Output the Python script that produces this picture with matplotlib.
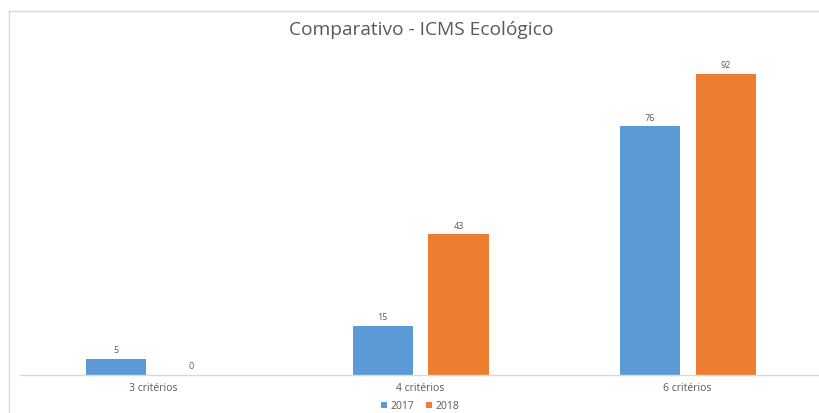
import matplotlib
matplotlib.use("Agg")
import matplotlib.pyplot as plt
from matplotlib.lines import Line2D
import numpy as np

categories = ["3 critérios", "4 critérios", "6 critérios"]
series_names = ["2017", "2018"]
values_2017 = [5, 15, 76]
values_2018 = [0, 43, 92]
colors = ["#5B9BD5", "#ED7D31"]

plt.rcParams['font.family'] = ['Open Sans', 'DejaVu Sans']

W, H = 819, 414
fig = plt.figure(figsize=(W/100, H/100), dpi=100)
fig.patch.set_facecolor("white")

# outer chart frame (top and left edges visible)
fig.add_artist(Line2D([9/W, 1.0], [1 - 12/H, 1 - 12/H], transform=fig.transFigure,
                      color="#D9D9D9", linewidth=1.0))
fig.add_artist(Line2D([9/W, 9/W], [0.0, 1 - 12/H], transform=fig.transFigure,
                      color="#D9D9D9", linewidth=1.0))

ax = fig.add_axes([20/W, (H-376)/H, 801/W, (376-49)/H])
x = np.arange(len(categories))
bw = 60/267
off = 38/267
b1 = ax.bar(x - off, values_2017, bw, color=colors[0], label=series_names[0])
b2 = ax.bar(x + off, values_2018, bw, color=colors[1], label=series_names[1])
for bars in (b1, b2):
    for r in bars:
        v = r.get_height()
        ax.annotate(f"{int(v)}", (r.get_x() + r.get_width()/2, v), xytext=(0, 3.5),
                    textcoords="offset points", ha="center", va="bottom",
                    fontsize=6.5, color="#595959")

ax.set_xlim(-0.5, 2.5)
ax.set_ylim(0, 100)
ax.set_xticks(x)
ax.set_xticklabels(categories, fontsize=7.5, color="#595959")
ax.tick_params(axis="x", length=0, pad=5)
ax.set_yticks([])
for s in ["top", "right", "left"]:
    ax.spines[s].set_visible(False)
ax.spines["bottom"].set_color("#D9D9D9")
ax.spines["bottom"].set_linewidth(1.0)

fig.text(421/W, 1 - 30/H, "Comparativo - ICMS Ecológico", ha="center", va="center",
         fontsize=13.8, color="#595959")

leg = fig.legend(handles=[b1, b2], labels=series_names, loc="center",
                 bbox_to_anchor=(420/W, 1 - 407/H), ncol=2, frameon=False,
                 fontsize=7.5, handlelength=0.6, handleheight=0.6, columnspacing=1.1,
                 handletextpad=0.3, labelcolor="#595959")

fig.savefig("out.png", dpi=100, facecolor="white")
